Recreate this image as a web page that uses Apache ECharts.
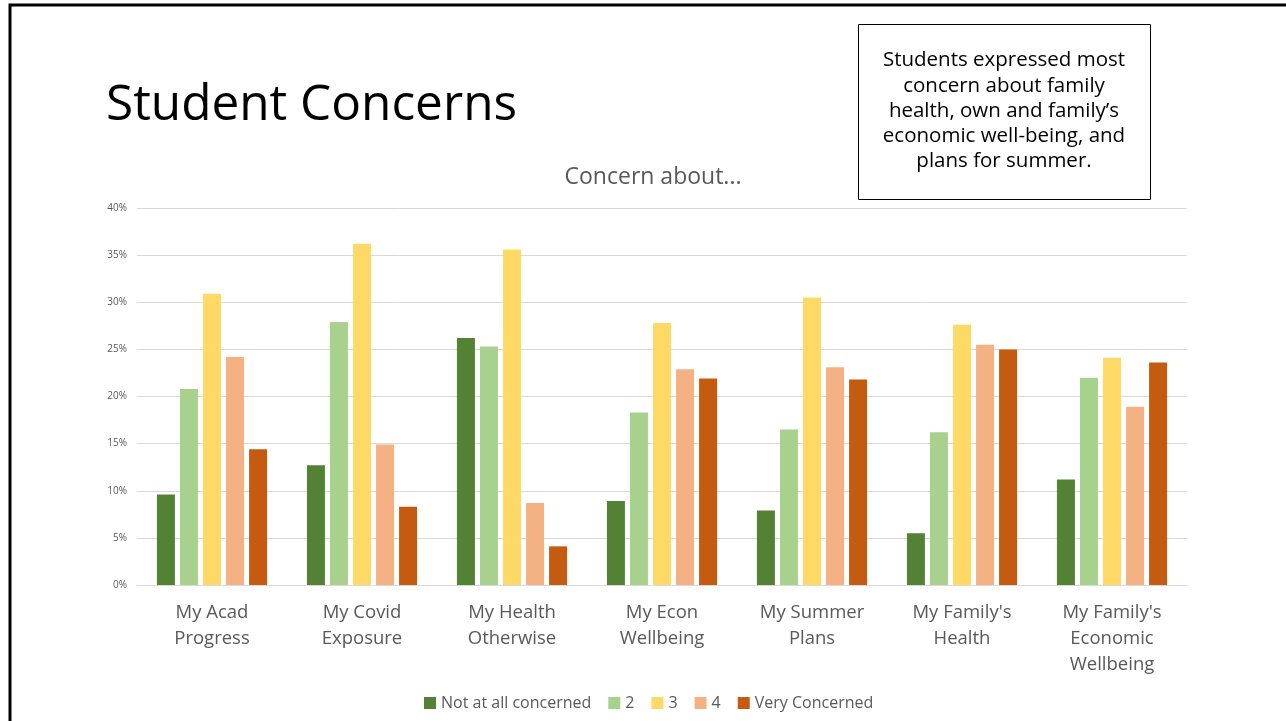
<!DOCTYPE html>
<html>
<head>
<meta charset="utf-8">
<script src="https://cdn.jsdelivr.net/npm/echarts@6/dist/echarts.min.js"></script>
<style>
  html, body { margin: 0; padding: 0; background: #fff; }
  #chart { width: 1286px; height: 721px; }
</style>
</head>
<body>
<div id="chart"></div>
<script>
const categories = ['My Acad\nProgress', 'My Covid\nExposure', 'My Health\nOtherwise', 'My Econ\nWellbeing', 'My Summer\nPlans', "My Family's\nHealth", "My Family's\nEconomic\nWellbeing"];
const seriesNames = ['Not at all concerned', '2', '3', '4', 'Very Concerned'];
const notAtAll = [9.6, 12.7, 26.2, 8.9, 7.9, 5.5, 11.2];
const level2 = [20.8, 27.9, 25.3, 18.3, 16.5, 16.2, 22.0];
const level3 = [30.9, 36.2, 35.6, 27.8, 30.5, 27.6, 24.1];
const level4 = [24.2, 14.9, 8.7, 22.9, 23.1, 25.5, 18.9];
const veryConcerned = [14.4, 8.3, 4.1, 21.9, 21.8, 25.0, 23.6];
const colors = ['#548235', '#A9D18E', '#FFD966', '#F4B183', '#C55A11'];

const font = '"Open Sans", sans-serif';
const myChart = echarts.init(document.getElementById('chart'));

const allData = [notAtAll, level2, level3, level4, veryConcerned];

const option = {
  animation: false,
  color: colors,
  title: {
    text: 'Concern about...',
    left: 648,
    textAlign: 'center',
    top: 161,
    textStyle: { fontFamily: font, fontSize: 23, fontWeight: 'normal', color: '#595959' }
  },
  legend: {
    data: seriesNames,
    left: 419,
    top: 690,
    icon: 'rect',
    itemWidth: 12,
    itemHeight: 12,
    itemGap: 17,
    textStyle: { fontFamily: font, fontSize: 16, color: '#595959' }
  },
  grid: { left: 137, right: 99, top: 208, bottom: 136, containLabel: false },
  xAxis: {
    type: 'category',
    data: categories,
    axisTick: { show: false },
    axisLine: { lineStyle: { color: '#d9d9d9', width: 1 } },
    axisLabel: {
      interval: 0,
      margin: 15,
      fontFamily: font,
      fontSize: 18.5,
      lineHeight: 26,
      color: '#595959'
    }
  },
  yAxis: {
    type: 'value',
    min: 0,
    max: 40,
    interval: 5,
    axisLine: { show: false },
    axisTick: { show: false },
    splitLine: { lineStyle: { color: '#d9d9d9', width: 1 } },
    axisLabel: {
      formatter: '{value}%',
      margin: 10,
      fontFamily: font,
      fontSize: 10,
      color: '#595959'
    }
  },
  series: seriesNames.map((name, i) => ({
    name: name,
    type: 'bar',
    data: allData[i],
    barWidth: 18,
    barGap: '28%',
    itemStyle: { color: colors[i] }
  })),
  graphic: [
    {
      type: 'rect',
      shape: { x: 10, y: 5, width: 1300, height: 760 },
      style: { fill: 'none', stroke: '#000', lineWidth: 3 },
      silent: true
    },
    {
      type: 'text',
      left: 106,
      top: 81,
      style: { text: 'Student Concerns', fontFamily: font, fontSize: 49.5, fontWeight: 'normal', fill: '#000' }
    },
    {
      type: 'rect',
      shape: { x: 858.5, y: 24.5, width: 292, height: 175 },
      style: { fill: '#fff', stroke: '#000', lineWidth: 1 }
    },
    {
      type: 'text',
      x: 1004,
      y: 48,
      style: {
        text: 'Students expressed most\nconcern about family\nhealth, own and family\u2019s\neconomic well-being, and\nplans for summer.',
        fontFamily: font,
        fontSize: 20.5,
        lineHeight: 25.2,
        fill: '#000',
        align: 'center',
        verticalAlign: 'top'
      }
    }
  ]
};

myChart.setOption(option);
</script>
</body>
</html>
